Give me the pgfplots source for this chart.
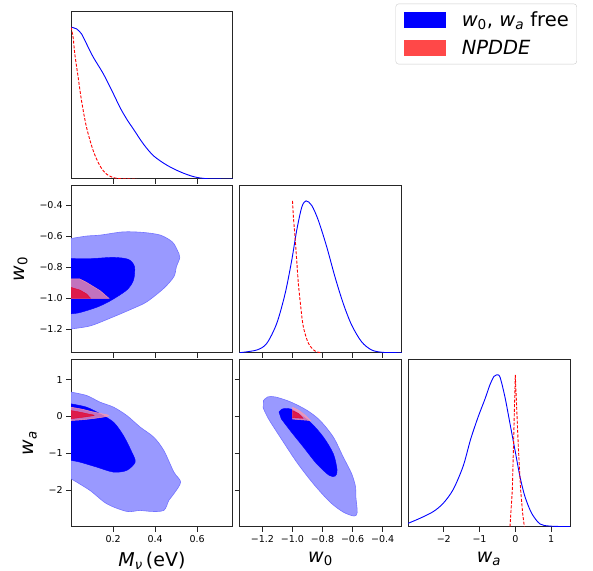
\documentclass[border=0pt]{standalone}
\usepackage{pgfplots}
\pgfplotsset{compat=1.18}
\usepackage{fontspec}
\setmainfont{DejaVu Sans}
\definecolor{lblue}{RGB}{153,153,255}
\definecolor{lbedge}{RGB}{115,115,255}
\definecolor{npo}{RGB}{255,151,170}
\definecolor{npi}{RGB}{230,0,40}
\definecolor{legred}{RGB}{255,72,72}
\newcommand{\wz}{\textit{w}\textsubscript{0}}
\newcommand{\wa}{\textit{w}\textsubscript{\textit{a}}}
\pgfplotsset{
  corner/.style={width=162bp,height=167bp,scale only axis,
    axis line style={black!85,line width=1bp},
    tick style={black!85,line width=0.9bp},
    major tick length=4.9bp, tick align=outside,
    xtick pos=left, ytick pos=left,
    tick label style={font=\fontsize{9.5bp}{11bp}\selectfont},
    label style={font=\fontsize{19bp}{22bp}\selectfont},
    xlabel shift=2.5bp, ylabel shift=5bp,
  },
  mnux/.style={xmin=0,xmax=0.77,xtick={0.2,0.4,0.6}},
  wzx/.style={xmin=-1.353,xmax=-0.274,xtick={-1.2,-1.0,-0.8,-0.6,-0.4}},
  wax/.style={xmin=-3.0,xmax=1.53,xtick={-2,-1,0,1}},
  wzy/.style={ymin=-1.35,ymax=-0.276,ytick={-1.2,-1.0,-0.8,-0.6,-0.4}},
  way/.style={ymin=-2.99,ymax=1.54,ytick={-2,-1,0,1}},
  oned/.style={ymin=0,ymax=1.1,ytick=\empty},
  bline/.style={blue,line width=0.9bp},
  rline/.style={red,line width=0.9bp,dash pattern=on 3bp off 1.6bp},
  bout/.style={fill=lblue,draw=lbedge,line width=0.6bp},
  bin/.style={fill=blue,draw=blue,line width=0.4bp},
  rout/.style={fill=npo,draw=npo,fill opacity=0.76,draw opacity=0.9,line width=0.5bp},
  rin/.style={fill=npi,draw=npi,fill opacity=0.76,draw opacity=0.9,line width=0.4bp},
}
\begin{document}
\begin{tikzpicture}
\useasboundingbox (0bp,0bp) rectangle (593bp,571bp);
% ---------- row 1, col 1 : M_nu 1D
\begin{axis}[corner,mnux,oned,at={(71bp,392bp)},anchor=south west,xticklabels={},
  legend style={at={(3.1235,1.05)},anchor=north east,draw=black!20,rounded corners=3bp,fill=white,
    font=\fontsize{19.5bp}{23bp}\selectfont,inner xsep=8bp,inner ysep=8bp,row sep=12bp,column sep=16bp,
    nodes={inner sep=0pt}},
  legend cell align=left,
  legend image code/.code={\fill[sharp corners,draw=none,#1] (0bp,-8bp) rectangle (42bp,8bp);}]
\addlegendimage{fill=blue,draw=none}
\addlegendentry{\wz, \wa\ free}
\addlegendimage{fill=legred,draw=none}
\addlegendentry{\textit{NPDDE}}
\addplot[bline,smooth,forget plot] coordinates {(0,1.0) (0.026,0.989) (0.050,0.956) (0.074,0.890) (0.106,0.802) (0.154,0.692) (0.202,0.560) (0.233,0.471) (0.265,0.394) (0.297,0.328) (0.345,0.229) (0.393,0.152) (0.457,0.090) (0.521,0.046) (0.584,0.015) (0.648,0.002) (0.77,0)};
\addplot[rline,smooth,forget plot] coordinates {(0,1.0) (0.010,0.934) (0.018,0.824) (0.034,0.670) (0.050,0.516) (0.074,0.339) (0.106,0.185) (0.138,0.086) (0.170,0.031) (0.218,0.004) (0.313,0)};
\end{axis}
% ---------- row 2, col 1 : M_nu vs w0
\begin{axis}[corner,mnux,wzy,at={(71bp,218.3bp)},anchor=south west,xticklabels={},
  yticklabels={−1.2,−1.0,−0.8,−0.6,−0.4},ylabel={\wz}]
\addplot[bout,smooth] coordinates {(0,-0.616) (0.074,-0.600) (0.138,-0.594) (0.249,-0.573) (0.345,-0.577) (0.425,-0.594) (0.481,-0.637) (0.505,-0.690) (0.517,-0.737) (0.501,-0.797) (0.489,-0.861) (0.441,-0.936) (0.361,-1.022) (0.297,-1.064) (0.186,-1.128) (0.090,-1.178) (0,-1.197)} --cycle;
\addplot[bin,smooth] coordinates {(0,-0.744) (0.106,-0.744) (0.202,-0.737) (0.273,-0.750) (0.302,-0.797) (0.297,-0.883) (0.265,-0.947) (0.186,-1.017) (0.122,-1.058) (0.042,-1.092) (0,-1.100)} --cycle;
\addplot[rout] coordinates {(0,-0.876) (0.042,-0.876) (0.074,-0.898) (0.138,-0.951) (0.180,-1.0) (0,-1.0)} --cycle;
\addplot[rin] coordinates {(0,-0.930) (0.042,-0.947) (0.074,-0.972) (0.093,-1.0) (0,-1.0)} --cycle;
\end{axis}
% ---------- row 2, col 2 : w0 1D
\begin{axis}[corner,wzx,oned,at={(239.5bp,218.3bp)},anchor=south west,xticklabels={}]
\addplot[bline,smooth] coordinates {(-1.353,0) (-1.237,0.018) (-1.171,0.062) (-1.105,0.193) (-1.049,0.390) (-1.005,0.609) (-0.972,0.806) (-0.938,0.959) (-0.910,1.0) (-0.872,0.970) (-0.828,0.872) (-0.772,0.697) (-0.717,0.499) (-0.662,0.324) (-0.606,0.182) (-0.540,0.072) (-0.473,0.018) (-0.396,0.002) (-0.274,0)};
\addplot[rline,smooth] coordinates {(-1.0,1.0) (-0.994,0.894) (-0.983,0.762) (-0.972,0.609) (-0.961,0.456) (-0.945,0.302) (-0.928,0.171) (-0.894,0.062) (-0.850,0.011) (-0.806,0)};
\end{axis}
% ---------- row 3, col 1 : M_nu vs wa
\begin{axis}[corner,mnux,way,at={(71bp,44.3bp)},anchor=south west,
  xticklabels={0.2,0.4,0.6},yticklabels={−2,−1,0,1},
  xlabel={\textit{M}\textsubscript{\textit{ν}}\,(eV)},ylabel={\wa}]
\addplot[bout,smooth] coordinates {(0,0.66) (0.074,0.569) (0.138,0.388) (0.202,0.253) (0.265,0.027) (0.329,-0.289) (0.393,-0.56) (0.441,-0.921) (0.489,-1.509) (0.521,-1.780) (0.489,-2.096) (0.465,-2.276) (0.441,-2.547) (0.377,-2.575) (0.329,-2.547) (0.265,-2.575) (0.170,-2.367) (0.090,-2.005) (0,-1.689)} --cycle;
\addplot[bin,smooth] coordinates {(0,0.343) (0.074,0.253) (0.138,0.072) (0.202,-0.154) (0.249,-0.515) (0.289,-0.967) (0.305,-1.238) (0.265,-1.463) (0.202,-1.509) (0.122,-1.373) (0.042,-1.238) (0,-1.192)} --cycle;
\addplot[rout,smooth] coordinates {(0,0.25) (0.05,0.20) (0.10,0.13) (0.15,0.07) (0.18,0.03) (0.16,-0.01) (0.10,-0.06) (0.05,-0.09) (0,-0.11)} --cycle;
\addplot[rin,smooth] coordinates {(0,0.16) (0.04,0.12) (0.08,0.07) (0.11,0.03) (0.07,-0.01) (0.03,-0.04) (0,-0.06)} --cycle;
\end{axis}
% ---------- row 3, col 2 : w0 vs wa
\begin{axis}[corner,wzx,way,at={(239.5bp,44.3bp)},anchor=south west,
  xticklabels={−1.2,−1.0,−0.8,−0.6,−0.4},yticklabels={},xlabel={\wz}]
\addplot[bout,smooth] coordinates {(-1.193,0.434) (-1.165,0.53) (-1.115,0.53) (-1.016,0.40) (-0.905,0.17) (-0.817,-0.108) (-0.728,-0.560) (-0.662,-1.102) (-0.606,-1.554) (-0.580,-1.915) (-0.578,-2.186) (-0.569,-2.600) (-0.590,-2.700) (-0.662,-2.593) (-0.750,-2.322) (-0.861,-1.825) (-0.972,-1.238) (-1.082,-0.560) (-1.160,-0.063) (-1.195,0.230)} --cycle;
\addplot[bin,smooth] coordinates {(-1.090,0.120) (-1.070,0.200) (-1.040,0.215) (-0.994,0.170) (-0.883,-0.150) (-0.794,-0.560) (-0.728,-1.012) (-0.703,-1.450) (-0.715,-1.615) (-0.755,-1.600) (-0.839,-1.283) (-0.927,-0.831) (-1.016,-0.379) (-1.075,-0.063)} --cycle;
\addplot[rout] coordinates {(-1.0,0.25) (-0.96,0.17) (-0.92,0.05) (-0.88,-0.11) (-1.0,-0.07)} --cycle;
\addplot[rin] coordinates {(-1.0,0.16) (-0.96,0.08) (-0.93,-0.05) (-1.0,-0.03)} --cycle;
\end{axis}
% ---------- row 3, col 3 : wa 1D
\begin{axis}[corner,wax,oned,at={(408bp,44.3bp)},anchor=south west,
  xticklabels={−2,−1,0,1},xlabel={\wa}]
\addplot[bline,smooth] coordinates {(-3.0,0.022) (-2.669,0.055) (-2.296,0.099) (-2.016,0.154) (-1.736,0.245) (-1.456,0.40) (-1.25,0.575) (-1.036,0.725) (-0.849,0.840) (-0.709,0.935) (-0.597,0.990) (-0.522,1.0) (-0.429,0.986) (-0.289,0.854) (-0.148,0.679) (-0.008,0.504) (0.132,0.329) (0.272,0.197) (0.459,0.088) (0.692,0.018) (0.972,0.004) (1.53,0)};
\addplot[rline] coordinates {(-0.148,0) (-0.083,0.241) (-0.046,0.569) (-0.018,0.832) (0.0,1.0) (0.038,0.789) (0.085,0.526) (0.150,0.241) (0.206,0.088) (0.253,0)};
\end{axis}
\end{tikzpicture}
\end{document}
